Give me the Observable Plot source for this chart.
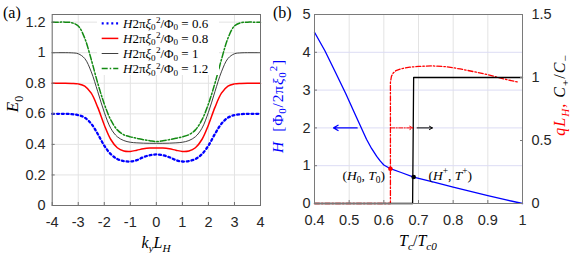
<!DOCTYPE html>
<html>
<head>
<meta charset="utf-8">
<script src="https://cdn.jsdelivr.net/npm/d3@7"></script>
<script src="https://cdn.jsdelivr.net/npm/@observablehq/plot@0.6"></script>
<style>
  html, body { margin: 0; padding: 0; background: #fff; }
  #wrap { position: relative; width: 575px; height: 253px; overflow: hidden; }
  #wrap svg { position: absolute; top: 0; }
</style>
</head>
<body>
<div id="wrap"></div>
<script>
// ---------- Panel (a) data ----------
const kVals = [-4, -3.75, -3.5, -3.25, -3, -2.75, -2.5, -2.25, -2, -1.75, -1.5, -1.25, -1, -0.75, -0.5, -0.25, 0,
               0.25, 0.5, 0.75, 1, 1.25, 1.5, 1.75, 2, 2.25, 2.5, 2.75, 3, 3.25, 3.5, 3.75, 4];
const E_06 = [0.600, 0.600, 0.600, 0.598, 0.592, 0.575, 0.535, 0.468, 0.392, 0.336, 0.304, 0.291, 0.288, 0.297, 0.316, 0.329, 0.334,
              0.329, 0.316, 0.297, 0.288, 0.291, 0.304, 0.336, 0.392, 0.468, 0.535, 0.575, 0.592, 0.598, 0.600, 0.600, 0.600];
const E_08 = [0.800, 0.800, 0.800, 0.799, 0.796, 0.782, 0.735, 0.642, 0.527, 0.432, 0.378, 0.357, 0.354, 0.362, 0.371, 0.376, 0.377,
              0.376, 0.371, 0.362, 0.354, 0.357, 0.378, 0.432, 0.527, 0.642, 0.735, 0.782, 0.796, 0.799, 0.800, 0.800, 0.800];
const E_10 = [1.000, 1.000, 1.000, 0.999, 0.993, 0.962, 0.875, 0.745, 0.610, 0.505, 0.450, 0.425, 0.414, 0.410, 0.408, 0.407, 0.407,
              0.407, 0.408, 0.410, 0.414, 0.425, 0.450, 0.505, 0.610, 0.745, 0.875, 0.962, 0.993, 0.999, 1.000, 1.000, 1.000];
const E_12 = [1.200, 1.200, 1.200, 1.196, 1.175, 1.095, 0.955, 0.800, 0.665, 0.560, 0.495, 0.463, 0.449, 0.440, 0.431, 0.424, 0.418,
              0.424, 0.431, 0.440, 0.449, 0.463, 0.495, 0.560, 0.665, 0.800, 0.955, 1.095, 1.175, 1.196, 1.200, 1.200, 1.200];
const seriesA = ["0.6", "0.8", "1", "1.2"];
const kTicks = [-4, -3, -2, -1, 0, 1, 2, 3, 4];
const kTickLabels = ["-4", "-3", "-2", "-1", "0", "1", "2", "3", "4"];
const eTicks = [0, 0.2, 0.4, 0.6, 0.8, 1, 1.2];
const eTickLabels = ["0", "0.2", "0.4", "0.6", "0.8", "1", "1.2"];

// ---------- Panel (b) data ----------
const tcH = [0.40, 0.43, 0.46, 0.49, 0.52, 0.55, 0.565, 0.58, 0.59, 0.60, 0.619, 0.65, 0.686, 0.75, 0.80, 0.85, 0.90, 0.95, 1.00];
const H   = [4.53, 4.04, 3.48, 2.91, 2.30, 1.70, 1.45, 1.24, 1.12, 1.02, 0.92, 0.82, 0.70, 0.55, 0.43, 0.32, 0.21, 0.10, 0.00];
const tcQ = [0.40, 0.619, 0.619, 0.622, 0.627, 0.635, 0.65, 0.675, 0.70, 0.74, 0.78, 0.82, 0.86, 0.90, 0.93, 0.96, 0.99];
const qLH = [0, 0, 0.96, 1.01, 1.035, 1.055, 1.07, 1.082, 1.088, 1.092, 1.086, 1.068, 1.046, 1.022, 1.000, 0.980, 0.962];
const tcC = [0.40, 0.683, 0.686, 1.00];
const Cratio = [0, 0, 1, 1];
const pointsTc = [0.619, 0.686];
const pointsH = [0.92, 0.70];
const pointColors = ["#ff0000", "#000000"];
const tcTicks = [0.4, 0.5, 0.6, 0.7, 0.8, 0.9, 1];
const tcTickLabels = ["0.4", "0.5", "0.6", "0.7", "0.8", "0.9", "1"];
const hTicks = [0, 1, 2, 3, 4, 5];
const rightTicks = [0, 0.5, 1, 1.5];
const rightTickLabels = ["0", "0.5", "1", "1.5"];
// arrows at H = 2 : [x1, x2]
const arrowsX1 = [0.523, 0.62, 0.696];
const arrowsX2 = [0.455, 0.683, 0.74];
const arrowsY = [2, 2, 2];

const RIGHT = 5 / 1.5; // right axis [0,1.5] mapped onto left [0,5]

// ---------- helpers ----------
const SERIF = "'Liberation Serif', 'Times New Roman', serif";
const SANS = "'Liberation Sans', Arial, sans-serif";
function rich(svg, {x, y, anchor = "middle", rotate = 0, size = 14, fill = "#000", spacing = 0, subK = 0.28, supK = 0.42}, parts) {
  const t = d3.select(svg).append("text")
    .attr("transform", `translate(${x},${y}) rotate(${rotate})`)
    .attr("text-anchor", anchor).attr("font-family", SERIF)
    .attr("font-size", size).attr("fill", fill);
  if (spacing) t.attr("letter-spacing", spacing);
  let shift = 0;
  for (const p of parts) {
    const [s, st] = typeof p === "string" ? [p, {}] : p;
    const target = st.sub ? subK * size : st.sup ? -supK * size : 0;
    const ts = t.append("tspan").text(s).attr("dy", target - shift);
    shift = target;
    if (st.sub || st.sup) ts.attr("font-size", size * 0.7);
    if (st.i) ts.attr("font-style", "italic");
    if (st.c) ts.attr("fill", st.c);
    if (st.dx) ts.attr("dx", st.dx);
  }
  return t;
}

const wrap = document.getElementById("wrap");
const TICK_FONT = "14.5px";

// ---------- Panel (a) ----------
const dataA = [];
const Es = [E_06, E_08, E_10, E_12];
seriesA.forEach((s, j) => kVals.forEach((k, i) => dataA.push({k, E: Es[j][i], s})));
const styleA = {
  "0.6": {stroke: "#0000ff", strokeWidth: 2.3, strokeDasharray: "2,2.8"},
  "0.8": {stroke: "#ff0000", strokeWidth: 1.5},
  "1":   {stroke: "#2a2a2a", strokeWidth: 0.9},
  "1.2": {stroke: "#138a13", strokeWidth: 1.5, strokeDasharray: "6,2,1.5,2"}
};

const plotA = Plot.plot({
  width: 270, height: 253,
  marginLeft: 51.7, marginRight: 10, marginTop: 14, marginBottom: 48,
  x: {domain: [-4, 4]},
  y: {domain: [0, 1.25]},
  style: {background: "transparent", fontFamily: SANS, fontSize: TICK_FONT, color: "#262626"},
  marks: [
    Plot.gridX(kTicks, {stroke: "#e3e3e3", strokeOpacity: 1}),
    Plot.gridY(eTicks, {stroke: "#e3e3e3", strokeOpacity: 1}),
    ...seriesA.map(s => Plot.line(dataA.filter(d => d.s === s), {x: "k", y: "E", curve: "catmull-rom", ...styleA[s]})),
    Plot.frame({stroke: "#707070"}),
    Plot.axisX({ticks: kTicks, tickSize: -3, tickPadding: 14.5, tickFormat: d => kTickLabels[kTicks.indexOf(d)], label: null, stroke: "#707070"}),
    Plot.axisY({ticks: eTicks, tickSize: -3, tickPadding: 9.5, tickFormat: d => eTickLabels[eTicks.indexOf(d)], label: null, stroke: "#707070"})
  ]
});
plotA.style.left = "0px";
wrap.appendChild(plotA);

// legend (a)
{
  const g = d3.select(plotA);
  g.append("rect").attr("x", 97).attr("y", 15).attr("width", 122).attr("height", 60).attr("fill", "#fff");
  const rowsY = [23.3, 38.4, 53.5, 68.6];
  seriesA.forEach((s, i) => {
    const st = styleA[s];
    g.append("line").attr("x1", 101.7).attr("x2", 118.3).attr("y1", rowsY[i]).attr("y2", rowsY[i])
      .attr("stroke", st.stroke).attr("stroke-width", st.strokeWidth)
      .attr("stroke-dasharray", st.strokeDasharray || null);
    rich(plotA, {x: 123, y: rowsY[i] + 4.4, anchor: "start", size: 13, subK: 0.2, supK: 0.34},
      [["H", {i: 1}], "2π", ["ξ", {i: 1}], ["0", {sub: 1}], ["2", {sup: 1, dx: 0.3}], "/Φ", ["0", {sub: 1}], " = " + s]);
  });
}
// labels (a)
rich(plotA, {x: 3, y: 17.5, anchor: "start", size: 16}, ["(a)"]);
rich(plotA, {x: 18, y: 104, anchor: "middle", rotate: -90, size: 17}, [["E", {i: 1}], ["0", {sub: 1}]]);
rich(plotA, {x: 156, y: 247.5, anchor: "middle", size: 16}, [["k", {i: 1}], ["y", {i: 1, sub: 1}], ["L", {i: 1}], ["H", {i: 1, sub: 1}]]);

// ---------- Panel (b) ----------
const dataH = tcH.map((t, i) => ({t, v: H[i]}));
const dataQ = tcQ.map((t, i) => ({t, v: qLH[i] * RIGHT}));
const dataC = tcC.map((t, i) => ({t, v: Cratio[i] * RIGHT}));
const dataP = pointsTc.map((t, i) => ({t, v: pointsH[i], c: pointColors[i]}));
const dataArr = arrowsX1.map((x1, i) => ({x1, x2: arrowsX2[i], y: arrowsY[i], i}));

const B_LEFT = 262;
const plotB = Plot.plot({
  width: 575 - B_LEFT, height: 253,
  marginLeft: 314 - B_LEFT, marginRight: 53, marginTop: 14, marginBottom: 50,
  x: {domain: [0.4, 1]},
  y: {domain: [0, 5]},
  style: {background: "transparent", fontFamily: SANS, fontSize: TICK_FONT, color: "#262626"},
  marks: [
    Plot.gridX(tcTicks, {stroke: "#e3e3e3", strokeOpacity: 1}),
    Plot.gridY(hTicks, {stroke: "#dcdcf4", strokeOpacity: 1}),
    Plot.line(dataQ, {x: "t", y: "v", stroke: "#ff0000", strokeWidth: 1.3, strokeDasharray: "5,2,1.5,2"}),
    Plot.line(dataC, {x: "t", y: "v", stroke: "#000", strokeWidth: 1.3}),
    Plot.line(dataH, {x: "t", y: "v", stroke: "#0000ff", strokeWidth: 1.3}),
    Plot.dot(dataP, {x: "t", y: "v", fill: "c", r: 2.3, stroke: null}),
    Plot.arrow(dataArr.filter(d => d.i === 0), {x1: "x1", x2: "x2", y1: "y", y2: "y", stroke: "#0000ff", strokeWidth: 1.3, headLength: 6}),
    Plot.arrow(dataArr.filter(d => d.i === 1), {x1: "x1", x2: "x2", y1: "y", y2: "y", stroke: "#ff0000", strokeWidth: 1, headLength: 5, strokeDasharray: "4,1.5,1,1.5"}),
    Plot.arrow(dataArr.filter(d => d.i === 2), {x1: "x1", x2: "x2", y1: "y", y2: "y", stroke: "#000", strokeWidth: 1, headLength: 5}),
    Plot.frame({stroke: "#7a7a7a"}),
    Plot.axisX({ticks: tcTicks, tickSize: -3, tickPadding: 14.5, tickFormat: d => tcTickLabels[tcTicks.indexOf(d)], label: null, stroke: "#7a7a7a"}),
    Plot.axisY({ticks: hTicks, tickSize: -3, tickPadding: 7, tickFormat: d => String(d), label: null, stroke: "#7a7a7a"}),
    Plot.axisY({anchor: "right", ticks: rightTicks.map(v => v * RIGHT), tickSize: -3, tickPadding: 12,
      tickFormat: d => rightTickLabels[rightTicks.findIndex(v => Math.abs(v * RIGHT - d) < 1e-9)], label: null, stroke: "#7a7a7a"})
  ]
});
plotB.style.left = B_LEFT + "px";
wrap.appendChild(plotB);

{
  const xs = plotB.scale("x"), ys = plotB.scale("y");
  const ox = -B_LEFT; // convert page x to panel-b x
  rich(plotB, {x: 273 + ox, y: 17.5, anchor: "start", size: 16}, ["(b)"]);
  rich(plotB, {x: xs.apply(0.605), y: ys.apply(0.74) + 4.5, anchor: "end", size: 13.5},
    ["(", ["H", {i: 1}], ["0", {sub: 1}], ", ", ["T", {i: 1}], ["0", {sub: 1}], ")"]);
  rich(plotB, {x: xs.apply(0.73), y: ys.apply(0.74) + 4.5, anchor: "start", size: 13.5},
    ["(", ["H", {i: 1}], ["+", {sup: 1}], ", ", ["T", {i: 1}], ["+", {sup: 1}], ")"]);
  rich(plotB, {x: 418 + ox, y: 246, anchor: "middle", size: 16},
    [["T", {i: 1}], ["c", {i: 1, sub: 1}], "/", ["T", {i: 1}], ["c0", {i: 1, sub: 1}]]);
  rich(plotB, {x: 283 + ox, y: 106, anchor: "middle", rotate: -90, size: 15.5, fill: "#0000ff", spacing: 0.8, subK: 0.22, supK: 0.36},
    [["H", {i: 1}], "  [Φ", ["0", {sub: 1}], "/2π", ["ξ", {i: 1}], ["0", {sub: 1}], ["2", {sup: 1, dx: 0.3}], "]"]);
  rich(plotB, {x: 565 + ox, y: 95, anchor: "middle", rotate: -90, size: 16, spacing: 1},
    [["q", {i: 1, c: "#ff0000"}], ["L", {i: 1, c: "#ff0000"}], ["H", {i: 1, sub: 1, c: "#ff0000"}], [", ", {c: "#ff0000"}],
     ["C", {i: 1}], ["+", {sub: 1}], "/", ["C", {i: 1}], ["−", {sub: 1}]]);
}
</script>
</body>
</html>
